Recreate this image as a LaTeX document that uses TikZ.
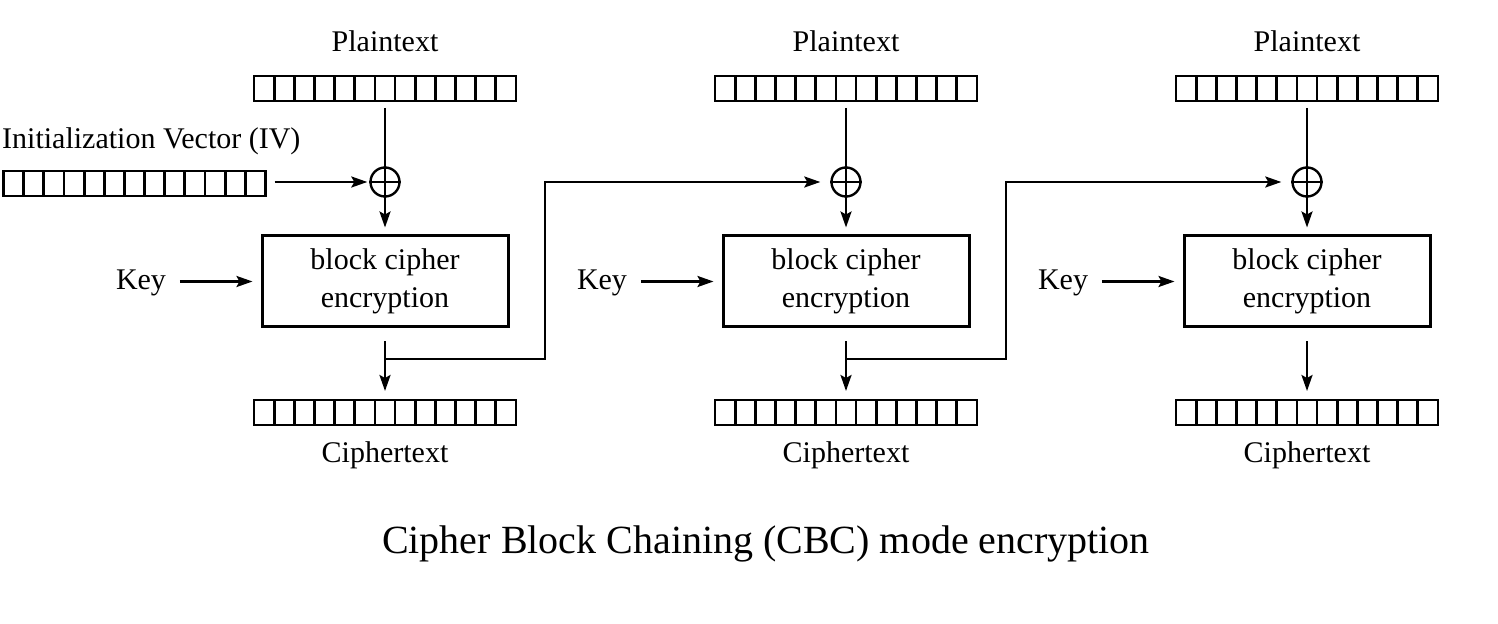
\documentclass[tikz,border=0pt]{standalone}
\usepackage{fontspec}
\setmainfont{Liberation Serif}
\usetikzlibrary{arrows.meta,calc}
\tikzset{
  cellrow/.style={draw, line width=1.4pt, minimum width=131pt, minimum height=12.5pt, inner sep=0pt, outer sep=0pt,
    path picture={\foreach \i in {1,...,12}{\pgfmathsetmacro{\f}{\i/13}\draw[line width=1.4pt] ($(path picture bounding box.south west)!\f!(path picture bounding box.south east)$) -- ($(path picture bounding box.north west)!\f!(path picture bounding box.north east)$);}}},
  cipherbox/.style={draw, line width=1.5pt, minimum width=123pt, minimum height=45.5pt, align=center, inner sep=0pt},
  xorop/.style={draw, circle, minimum size=14.5pt, inner sep=0pt},
  lbl/.style={anchor=base},
  arr/.style={-{Stealth[length=8pt,width=5.5pt,inset=1.5pt]}},
}
\begin{document}
\begin{tikzpicture}[x=0.5pt,y=-0.5pt, line width=1.2pt,
  every node/.style={font=\fontsize{15pt}{19pt}\selectfont}]
\useasboundingbox (0,0) rectangle (1498,624);

\node[anchor=base west, inner sep=0pt] (ivl) at (1,149) {Initialization Vector (IV)};
\node[cellrow] (iv) at (134.5,183.5) {};

\foreach \c/\x in {1/385, 2/846, 3/1307} {
  \node[lbl] (ptl\c) at (\x,52) {Plaintext};
  \node[cellrow] (pt\c) at (\x,88.5) {};
  \node[xorop] (xor\c) at (\x,182) {};
  \node[cipherbox] (box\c) at (\x,281.5) {block cipher\\encryption};
  \node[cellrow] (ct\c) at (\x,412.5) {};
  \node[lbl] (ctl\c) at (\x,463) {Ciphertext};
  \node[lbl] (key\c) at (\x-244,290) {Key};
  \draw[arr, shorten <=3.5pt, shorten >=3.5pt] (pt\c.south) -- (box\c.north);
  \draw (xor\c.west) -- (xor\c.east);
  \draw[arr, shorten <=3pt, shorten >=4pt] (key\c.east |- box\c.west) -- (box\c.west);
  \draw[arr, shorten <=6.5pt, shorten >=4.5pt] (box\c.south) -- (ct\c.north);
}

\draw[arr, shorten <=4.5pt, shorten >=1pt] (iv.east |- xor1.west) -- (xor1.west);

\coordinate (tap1) at (385,359);
\coordinate (bend1) at (545,359);
\draw[arr, shorten >=5pt] (tap1) -- (bend1) |- (xor2.west);

\coordinate (tap2) at (846,359);
\coordinate (bend2) at (1006,359);
\draw[arr, shorten >=5pt] (tap2) -- (bend2) |- (xor3.west);

\node[anchor=base, font=\fontsize{20pt}{24pt}\selectfont] (title) at (766,553) {Cipher Block Chaining (CBC) mode encryption};
\end{tikzpicture}
\end{document}
